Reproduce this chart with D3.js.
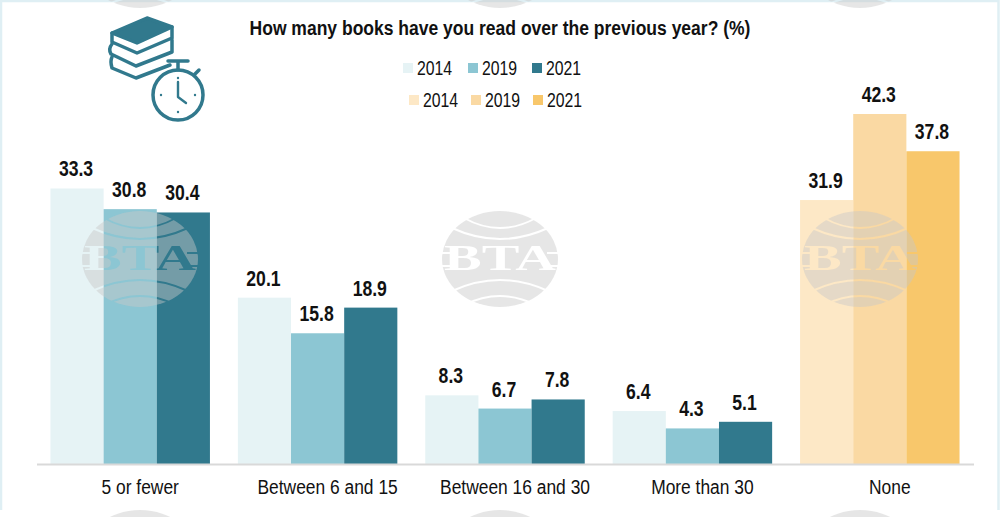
<!DOCTYPE html>
<html>
<head>
  <meta charset="utf-8">
  <title>Books read</title>
  <script src="https://cdnjs.cloudflare.com/ajax/libs/d3/7.8.5/d3.min.js"></script>
  <style>
    body { margin: 0; background: #fff; }
    svg { display: block; }
    text { font-family: "Liberation Sans", Arial, sans-serif; fill: #111; }
  </style>
</head>
<body>
  <div id="vis"></div>
  <script>
var w = 1000, h = 517;

var categories = ["5 or fewer", "Between 6 and 15", "Between 16 and 30", "More than 30", "None"];
var years = ["2014", "2019", "2021"];
var values2014 = [33.3, 20.1, 8.3, 6.4, 31.9];
var values2019 = [30.8, 15.8, 6.7, 4.3, 42.3];
var values2021 = [30.4, 18.9, 7.8, 5.1, 37.8];
var blues = ["#e6f3f5", "#8cc6d3", "#31798d"];
var oranges = ["#fde8c6", "#fad9a3", "#f8c76b"];
var title = "How many books have you read over the previous year? (%)";

var series = [values2014, values2019, values2021];

var svg = d3.select("#vis").append("svg")
  .attr("width", w)
  .attr("height", h);

// narrow the text, the picture uses a condensed face
function squeeze(sel, k) {
  sel.each(function() {
    var t = d3.select(this);
    t.attr("textLength", this.getComputedTextLength() * k)
      .attr("lengthAdjust", "spacingAndGlyphs");
  });
}

// pale frame
svg.append("path")
  .attr("d", "M1,510V1H998.5V510")
  .attr("fill", "none")
  .attr("stroke", "#dfeff4")
  .attr("stroke-width", 2.5);

var x = d3.scaleBand().domain(categories).range([36.5, 973.5]).paddingInner(0.149).paddingOuter(0.0745);
var x1 = d3.scaleBand().domain(years).range([0, x.bandwidth()]);
var y = d3.scaleLinear().domain([0, 42.3]).range([464, 114]);

var groups = svg.selectAll("g.group").data(categories).enter()
  .append("g")
  .attr("class", "group")
  .attr("transform", function(d) { return "translate(" + x(d) + ",0)"; });

var cells = groups.selectAll("g.cell")
  .data(function(d, i) {
    return years.map(function(yr, j) {
      return { year: yr, value: series[j][i], color: (i === 4 ? oranges : blues)[j] };
    });
  })
  .enter().append("g").attr("class", "cell");

cells.append("rect")
  .attr("x", function(d) { return x1(d.year); })
  .attr("y", function(d) { return y(d.value); })
  .attr("width", x1.bandwidth())
  .attr("height", function(d) { return y(0) - y(d.value); })
  .attr("fill", function(d) { return d.color; });

cells.append("text")
  .attr("x", function(d) { return x1(d.year) + x1.bandwidth() / 2 - 1; })
  .attr("y", function(d) { return y(d.value) - 12; })
  .attr("text-anchor", "middle")
  .style("font-size", "22px")
  .style("font-weight", "bold")
  .text(function(d) { return d.value.toFixed(1); })
  .call(squeeze, 0.8);

// axis, labels sit a bit right of the bars in the original
var axis = svg.append("g")
  .attr("transform", "translate(0," + y(0) + ")")
  .call(d3.axisBottom(x).tickSize(0).tickPadding(16));
axis.select(".domain").attr("stroke", "#d9d9d9").attr("stroke-width", 2);
axis.selectAll("text")
  .attr("dx", 10)
  .style("font-family", '"Liberation Sans", Arial, sans-serif')
  .style("font-size", "20px")
  .attr("fill", "#111")
  .call(squeeze, 0.87);

// title
svg.append("text")
  .attr("x", 500).attr("y", 35)
  .attr("text-anchor", "middle")
  .style("font-size", "20px")
  .style("font-weight", "bold")
  .text(title)
  .call(squeeze, 0.875);

// legends
function legend(colors, swatchX, top) {
  var g = svg.append("g");
  years.forEach(function(yr, i) {
    g.append("rect")
      .attr("x", swatchX[i]).attr("y", top - 5)
      .attr("width", 10).attr("height", 10)
      .attr("fill", colors[i]);
    g.append("text")
      .attr("x", swatchX[i] + 14).attr("y", top + 7)
      .style("font-size", "20px")
      .attr("fill", "#222")
      .text(yr)
      .call(squeeze, 0.79);
  });
}
legend(blues, [403, 468, 532], 68);
legend(oranges, [409, 471, 533], 100);

// books and stopwatch
var teal = "#31798d";
var icon = svg.append("g")
  .attr("fill", "none")
  .attr("stroke", teal)
  .attr("stroke-width", 3.5)
  .attr("stroke-linejoin", "round")
  .attr("stroke-linecap", "round");
icon.append("path")
  .attr("d", "M112,33L147,18L172,27L137,43Z")
  .attr("fill", teal);
icon.append("path").attr("d", "M112,33V42L137,53L172,38M172,27V38");
icon.append("path").attr("d", "M112,44Q108,49 111,54L136,66L172,52M172,40V52");
icon.append("path").attr("d", "M112,57Q110,61 112,68L136,78L170,65");
icon.append("circle").attr("cx", 178).attr("cy", 95).attr("r", 25).attr("fill", "#fff");
icon.append("path").attr("d", "M168,61H188M178,61V70M195,74L199,70");
icon.append("path").attr("d", "M178,82V97L186,103").attr("stroke-width", 2.4);
[[178, 78], [195, 95], [178, 112], [161, 95]].forEach(function(p) {
  icon.append("circle")
    .attr("cx", p[0]).attr("cy", p[1]).attr("r", 1.2)
    .attr("fill", teal).attr("stroke", "none");
});

// watermark, the letters and arcs are cut out of the disc
var mask = svg.append("defs").append("mask")
  .attr("id", "bta")
  .attr("maskUnits", "userSpaceOnUse")
  .attr("x", -70).attr("y", -60).attr("width", 140).attr("height", 120);
mask.append("rect")
  .attr("x", -70).attr("y", -60).attr("width", 140).attr("height", 120)
  .attr("fill", "#fff");
["M-36,-41Q0,-21 36,-41", "M-48,-31Q0,-9 48,-31", "M-48,32Q0,10 48,32", "M-36,46Q0,28 36,46"].forEach(function(d) {
  mask.append("path")
    .attr("d", d)
    .attr("fill", "none")
    .attr("stroke", "#000")
    .attr("stroke-width", 2);
});
mask.append("text")
  .attr("x", 0).attr("y", 11)
  .attr("text-anchor", "middle")
  .attr("textLength", 112)
  .attr("lengthAdjust", "spacingAndGlyphs")
  .style("font-family", '"Liberation Serif", serif')
  .style("font-size", "36px")
  .style("font-weight", "bold")
  .style("fill", "#000")
  .text("BTA");
[[-60, -47], [47, 60]].forEach(function(s) {
  [-7, 6].forEach(function(yy) {
    mask.append("rect")
      .attr("x", s[0]).attr("y", yy).attr("width", s[1] - s[0]).attr("height", 2)
      .attr("fill", "#000");
  });
});

[-40, 259, 558].forEach(function(cy) {
  [140, 500, 860].forEach(function(cx) {
    svg.append("g")
      .attr("transform", "translate(" + cx + "," + cy + ")")
      .append("ellipse")
      .attr("rx", 58).attr("ry", 48)
      .attr("fill", "#c8c8c8")
      .attr("fill-opacity", 0.45)
      .attr("mask", "url(#bta)");
  });
});
  </script>
</body>
</html>
